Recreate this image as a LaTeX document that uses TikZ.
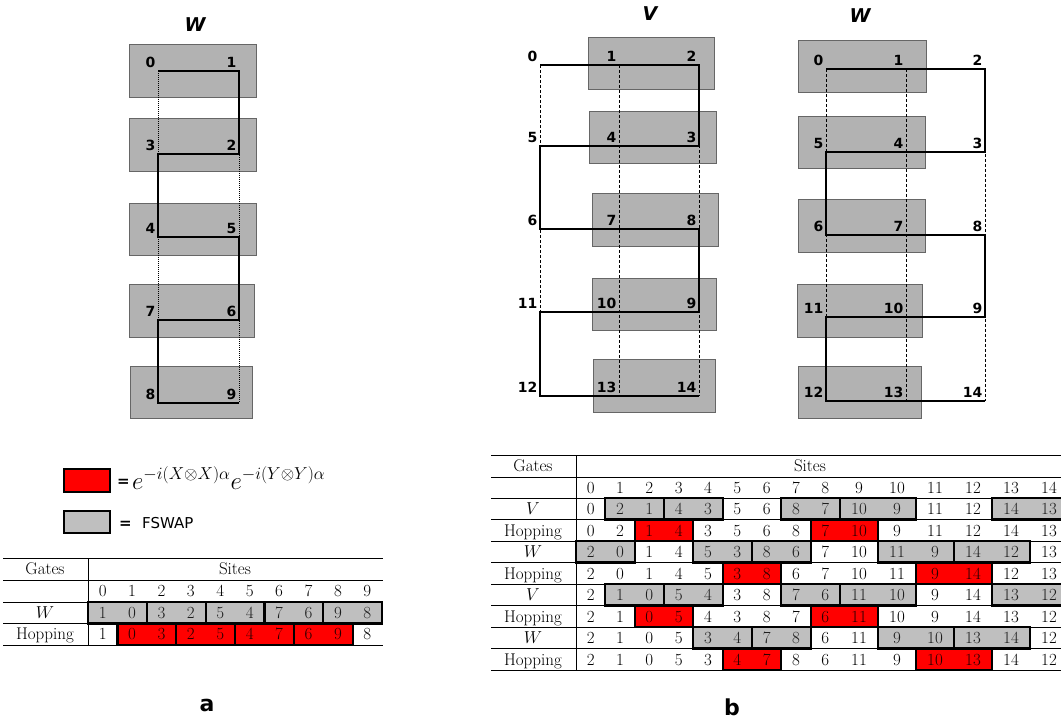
\documentclass[tikz,border=0pt]{standalone}
\usepackage{fontspec}
\newfontfamily\lblfont{DejaVu Sans}

\begin{document}
\begin{tikzpicture}[x=1pt,y=-1pt,
gate/.style={fill=gray!60,draw=black!60,line width=.8pt},
chain/.style={line width=2pt},
guide/.style={line width=.8pt,dash pattern=on 3pt off 2pt},
fine/.style={line width=.7pt,dash pattern=on 1pt off 1pt},
lbl/.style={font=\lblfont\bfseries\fontsize{14}{16}\selectfont,anchor=south east,inner xsep=2.5pt,inner ysep=3.5pt},
ttl/.style={font=\lblfont\bfseries\itshape\fontsize{19}{21}\selectfont},
tag/.style={font=\lblfont\bfseries\fontsize{22}{24}\selectfont},
cell/.style={font=\fontsize{17}{19}\selectfont,inner sep=0pt,text height=13pt,text depth=2pt},
rule/.style={line width=.6pt},
gpair/.style={fill=gray!50},
rpair/.style={fill=red},
veil/.style={fill opacity=.15,draw=black,line width=2.2pt},
key/.style={draw=black,line width=2pt},
declare function={lx(\x)=88+29.4*\x; bx(\x)=(\x<9)*(576+29.33*\x)+(\x>=9)*(840+38*(\x-9));}]
\useasboundingbox (0,0) rectangle (1061,719);

% (a) W layer
\node[ttl] (wa) at (195,25) {W};
\foreach \xa/\ya/\xb/\yb in {129/44/256/97,129/118/256/171,129/203/256/255,129/284/254/337,130/366/252/418}
  \filldraw[gate] (\xa,\ya) rectangle (\xb,\yb);
\foreach \l/\r/\y in {0/1/71,3/2/154,4/5/237,7/6/320,8/9/403} {
  \coordinate (a\l) at (158,\y); \coordinate (a\r) at (239,\y);}
\draw[fine] (a0) -- (a8) (a1) -- (a9);
\draw[chain] (a0) -- (a1) -- (a2) -- (a3) -- (a4) -- (a5) -- (a6) -- (a7) -- (a8) -- (a9);
\foreach \n in {0,...,9} \node[lbl] (al\n) at (a\n) {\n};

% (b) V layer
\node[ttl] (vb) at (650,14) {V};
\foreach \xa/\ya/\xb/\yb in {588/37/714/89,589/111/716/163,592/193/718/246,592/278/716/330,593/359/715/412}
  \filldraw[gate] (\xa,\ya) rectangle (\xb,\yb);
\foreach \l/\m/\r/\y in {0/1/2/65,5/4/3/146,6/7/8/229,11/10/9/312,12/13/14/396} {
  \coordinate (v\l) at (540,\y); \coordinate (v\m) at (619,\y); \coordinate (v\r) at (699,\y);}
\draw[guide] (v0) -- (v12) (v1) -- (v13) (v2) -- (v14);
\draw[chain] (v0) -- (v2) -- (v3) -- (v5) -- (v6) -- (v8) -- (v9) -- (v11) -- (v12) -- (v14);
\foreach \n in {0,...,14} \node[lbl] (vl\n) at (v\n) {\n};

% (b) W layer
\node[ttl] (wb) at (860,16) {W};
\foreach \xa/\ya/\xb/\yb in {798/40/926/92,798/116/925/168,798/199/925/252,797/284/922/337,798/366/921/418}
  \filldraw[gate] (\xa,\ya) rectangle (\xb,\yb);
\foreach \l/\m/\r/\y in {0/1/2/69,5/4/3/152,6/7/8/235,11/10/9/317,12/13/14/401} {
  \coordinate (w\l) at (826,\y); \coordinate (w\m) at (906,\y); \coordinate (w\r) at (985,\y);}
\draw[guide] (w0) -- (w12) (w1) -- (w13) (w2) -- (w14);
\draw[chain] (w0) -- (w2) -- (w3) -- (w5) -- (w6) -- (w8) -- (w9) -- (w11) -- (w12) -- (w14);
\foreach \n in {0,...,14} \node[lbl] (wl\n) at (w\n) {\n};

% legend
\filldraw[key,fill=red] (64,469) rectangle (110,492);
\filldraw[key,fill=gray!50] (64,511) rectangle (110,533);
\node[anchor=base west,inner sep=0pt,font=\lblfont\bfseries\fontsize{15}{17}\selectfont] (eqa) at (117,486) {=};
\node[anchor=base west,inner sep=0pt,font=\fontsize{25}{29}\selectfont] (hopgate) at (132,489) {$e^{-i(X\otimes X)\alpha}e^{-i(Y\otimes Y)\alpha}$};
\node[anchor=base west,inner sep=0pt,font=\lblfont\bfseries\fontsize{15}{17}\selectfont] (eqb) at (119,528) {=};
\node[anchor=base west,inner sep=0pt,font=\lblfont\fontsize{15}{17}\selectfont] (fswap) at (142,528.5) {FSWAP};

% table (a)
\foreach \y in {558,580,602,623,645} \draw[rule] (3,\y) -- (383,\y);
\draw[rule] (88,558) -- (88,645);
\node[cell] (gta) at (45,569) {Gates};
\node[cell] (sta) at (235,569) {Sites};
\foreach \j in {0,...,9} \node[cell] (ha\j) at ({lx(\j+.5)},591) {\j};
\foreach \lab/\vals/\kind/\starts [count=\r from 0] in {{$W$}/{1,0,3,2,5,4,7,6,9,8}/gpair/{0,2,4,6,8},
  {Hopping}/{1,0,3,2,5,4,7,6,9,8}/rpair/{1,3,5,7}} {
  \node[cell] (ra\r) at (45,{612.5+21.5*\r}) {\lab};
  \foreach \s in \starts \fill[\kind] ({lx(\s)},{602+21.5*\r}) rectangle ({lx(\s+2)},{623.5+21.5*\r});
  \foreach \v [count=\j from 0] in \vals \node[cell] (ca\r-\j) at ({lx(\j+.5)},{612.5+21.5*\r}) {\v};
  \foreach \s in \starts \filldraw[\kind,veil] ({lx(\s)},{602+21.5*\r}) rectangle ({lx(\s+2)},{623.5+21.5*\r});
}

% table (b)
\foreach \y in {455,477,498,519.5,541,562.5,584,605.5,627,648.5,670} \draw[rule] (491,\y) -- (1068,\y);
\draw[rule] (576,455) -- (576,670);
\node[cell] (gtb) at (533,466) {Gates};
\node[cell] (stb) at (810,466) {Sites};
\foreach \j in {0,...,14} \node[cell] (hb\j) at ({(bx(\j)+bx(\j+1))/2},487.5) {\j};
\foreach \lab/\vals/\kind/\starts [count=\r from 0] in {
  {$V$}/{0,2,1,4,3,5,6,8,7,10,9,11,12,14,13}/gpair/{1,3,7,9,13},
  {Hopping}/{0,2,1,4,3,5,6,8,7,10,9,11,12,14,13}/rpair/{2,8},
  {$W$}/{2,0,1,4,5,3,8,6,7,10,11,9,14,12,13}/gpair/{0,4,6,10,12},
  {Hopping}/{2,0,1,4,5,3,8,6,7,10,11,9,14,12,13}/rpair/{5,11},
  {$V$}/{2,1,0,5,4,3,8,7,6,11,10,9,14,13,12}/gpair/{1,3,7,9,13},
  {Hopping}/{2,1,0,5,4,3,8,7,6,11,10,9,14,13,12}/rpair/{2,8},
  {$W$}/{2,1,0,5,3,4,7,8,6,11,9,10,13,14,12}/gpair/{4,6,10,12},
  {Hopping}/{2,1,0,5,3,4,7,8,6,11,9,10,13,14,12}/rpair/{5,11}} {
  \node[cell] (rb\r) at (533,{509+21.5*\r}) {\lab};
  \foreach \s in \starts \fill[\kind] ({bx(\s)},{498+21.5*\r}) rectangle ({bx(\s+2)},{519.5+21.5*\r});
  \foreach \v [count=\j from 0] in \vals \node[cell] (cb\r-\j) at ({(bx(\j)+bx(\j+1))/2},{509+21.5*\r}) {\v};
  \foreach \s in \starts \filldraw[\kind,veil] ({bx(\s)},{498+21.5*\r}) rectangle ({bx(\s+2)},{519.5+21.5*\r});
}

\node[tag] (pa) at (207,705) {a};
\node[tag] (pb) at (732,707) {b};
\end{tikzpicture}
\end{document}
